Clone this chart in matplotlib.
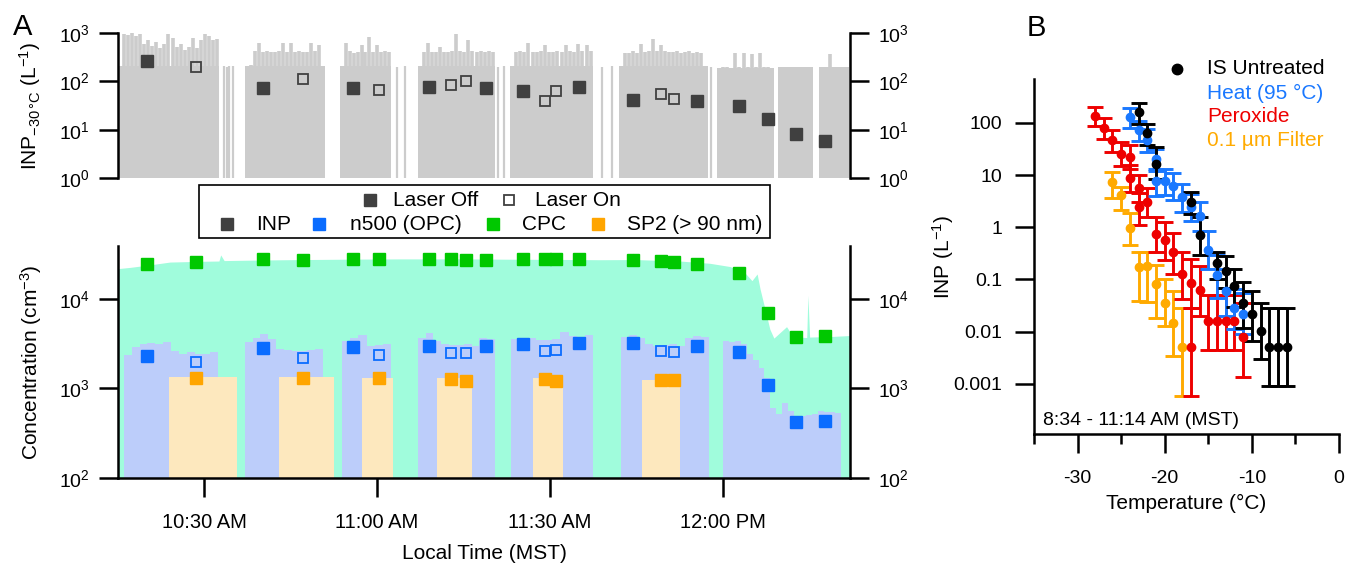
import matplotlib
matplotlib.use("Agg")
import matplotlib.pyplot as plt
import numpy as np
from matplotlib.patches import Rectangle
from matplotlib.ticker import FixedLocator, FixedFormatter, NullLocator

plt.rcParams["font.family"] = ["Liberation Sans", "DejaVu Sans"]
plt.rcParams["mathtext.fontset"] = "custom"
plt.rcParams["mathtext.rm"] = "Liberation Sans"
plt.rcParams["mathtext.it"] = "Liberation Sans:italic"
plt.rcParams["mathtext.bf"] = "Liberation Sans:bold"
plt.rcParams["axes.unicode_minus"] = False

# ------------------------------------------------------------------
# Panel A data (time in minutes after 10:00 MST)
# ------------------------------------------------------------------
# INP at -30 C, laser off / laser on
inp_off_t = [20.2, 40.2, 55.9, 69.0, 78.9, 85.3, 95.1, 104.4, 115.4, 122.8, 127.7, 132.7, 137.6]
inp_off = [267, 74, 72, 78, 73, 64, 78, 41, 39, 31, 17, 8.2, 5.7]
inp_on_t = [28.7, 47.1, 60.3, 72.8, 75.4, 89.1, 91.1, 109.2, 111.5]
inp_on = [194, 110, 67, 82, 103, 39, 64, 55, 44]

# grey INP time series: blocks (start, end, base level) with spike tops (L-1)
inp_blk_start = [15.1, 37.1, 53.6, 67.1, 83.0, 101.9, 118.9, 129.5, 136.6]
inp_blk_end = [32.6, 51.0, 62.4, 80.4, 97.4, 117.3, 128.9, 135.5, 141.8]
inp_blk_base = [210, 210, 210, 210, 210, 210, 190, 195, 195]
inp_blk_tops = [
    [210, 950, 900, 1000, 850, 950, 600, 700, 550, 650, 500, 600, 950,
     800, 520, 600, 450, 520, 800, 480, 700, 950, 850, 700, 750],
    [210, 215, 420, 620, 400, 420, 410, 400, 420, 620, 400, 610, 400,
     420, 400, 410, 620, 420, 560, 210],
    [210, 620, 420, 380, 400, 560, 400, 830, 410, 560, 400, 420, 410],
    [210, 400, 620, 400, 410, 520, 400, 400, 420, 950, 420, 400, 730,
     420, 410, 420, 400, 420, 410],
    [210, 400, 420, 410, 620, 400, 410, 420, 560, 400, 410, 420, 400,
     560, 420, 410, 600, 430, 560, 420],
    [210, 380, 380, 420, 380, 600, 400, 420, 750, 420, 560, 420, 410,
     400, 420, 380, 410, 420, 380, 400, 380, 210],
    [190, 195, 200, 190, 380, 200, 380, 195, 370, 195, 380, 200, 195, 190],
    [195, 200, 195, 200, 195, 200, 195, 195],
    [195, 200, 360, 200, 195, 200, 195],
]
inp_thin_t = [33.5, 34.0, 34.3, 35.0, 63.4, 64.8, 81.0, 82.0, 99.0, 100.7, 117.9]
inp_thin = [205, 200, 205, 210, 200, 205, 200, 205, 200, 205, 200]

# sample times (all filter samples) and point values
sample_t = [20.2, 28.7, 40.2, 47.1, 55.9, 60.3, 69.0, 72.8, 75.4, 78.9, 85.3,
            89.1, 91.1, 95.1, 104.4, 109.2, 111.5, 115.4, 122.8, 127.7, 132.7, 137.6]
cpc_pt = [24600, 26100, 27700, 27000, 27700, 27700, 27700, 28000, 27500, 27500, 28200,
          28200, 28200, 28200, 27300, 26300, 25900, 24400, 19300, 6980, 3720, 3890]
n500_off = [2320, 2800, 2880, 2950, 3010, 3110, 3220, 3220, 3010, 2540, 1080, 418, 436]
n500_on = [1990, 2210, 2390, 2460, 2460, 2600, 2670, 2630, 2580]
sp2_on = [1300, 1310, 1300, 1280, 1210, 1290, 1210, 1250, 1250]

# CPC continuous record (cm-3)
cpc_t = [15.1, 17.2, 20.6, 24.1, 29.3, 32.6, 32.9, 33.5, 39.7, 46.6, 55.3, 64.0,
         74.4, 81.3, 91.7, 98.6, 104.0, 104.4, 104.9, 112.5, 117.7, 121.2, 123.8,
         125.0, 125.9, 126.4, 127.2, 128.1, 128.8, 131.0, 132.1, 134.5, 134.7,
         135.0, 138.5, 142.0]
cpc_v = [21800, 22500, 24000, 25800, 26300, 26500, 31000, 26800, 27200, 27500, 27800,
         28000, 28000, 27800, 27600, 27400, 27500, 32500, 27500, 26500, 25000, 23000,
         19500, 16000, 19000, 13000, 8000, 4600, 3650, 4900, 3800, 3700, 11000, 3750,
         3800, 3900]

# OPC n500 record, blocks of bar tops (cm-3)
n500_blk_start = [16.1, 37.1, 53.9, 67.1, 83.2, 102.3, 120.0]
n500_blk_end = [32.5, 50.6, 62.5, 80.4, 97.5, 117.6, 140.5]
n500_blk_tops = [
    [2350, 2900, 3100, 3250, 3150, 3300, 2600, 2450, 2550, 2400, 2450, 2550],
    [3300, 3700, 4100, 3600, 2750, 2700, 2650, 2600, 2700, 2750],
    [3400, 3650, 4000, 3000, 3050, 3100],
    [3700, 4200, 3400, 3100, 3050, 3050, 3100, 3000, 3700, 3600],
    [3600, 3700, 3650, 3450, 3500, 3550, 4300, 3900, 3800, 4000],
    [3800, 4000, 3700, 3100, 3000, 3050, 3100, 3000, 3700, 3900, 3800],
    [3400, 3300, 3350, 3100, 2400, 2100, 1700, 1300, 600, 520, 680, 560, 470,
     490, 500, 520, 560, 550, 540, 530],
]

# SP2 (> 90 nm) record, one level per laser-on period (cm-3)
sp2_start = [23.9, 43.0, 57.4, 70.4, 87.0, 105.9]
sp2_end = [35.7, 52.5, 62.7, 76.4, 92.2, 112.6]
sp2_level = [1330, 1340, 1320, 1300, 1320, 1250]

time_ticks = [30, 60, 90, 120]
time_labels = ["10:30 AM", "11:00 AM", "11:30 AM", "12:00 PM"]

# ------------------------------------------------------------------
# Panel B data: INP spectra (T in C, INP in L-1, lower / upper bounds)
# ------------------------------------------------------------------
ut_T = [-23, -22, -21, -17, -16, -14, -13, -12, -11, -10, -9, -8, -7, -6]
ut_v = [158, 64, 16, 3.1, 0.71, 0.21, 0.148, 0.075, 0.035, 0.022, 0.0105, 0.0052, 0.0052, 0.0052]
ut_lo = [97, 37, 8.5, 1.8, 0.3, 0.1, 0.07, 0.03, 0.012, 0.0065, 0.003, 0.0009, 0.0009, 0.0009]
ut_hi = [241, 94, 35, 4.8, 1.6, 0.34, 0.28, 0.16, 0.09, 0.06, 0.036, 0.028, 0.028, 0.028]

ht_T = [-24, -23, -22, -21, -21, -20, -19, -18, -17, -16, -15, -14, -13, -12, -11]
ht_v = [130, 73, 47, 20, 7.6, 7.7, 6.2, 3.8, 2.4, 1.66, 0.37, 0.12, 0.059, 0.028, 0.022]
ht_lo = [80, 45, 28, 12, 4.0, 4.1, 3.4, 2.0, 1.3, 0.85, 0.16, 0.045, 0.02, 0.0115, 0.009]
ht_hi = [190, 110, 75, 32, 13, 13, 11, 6.6, 4.4, 3.1, 0.85, 0.3, 0.16, 0.065, 0.055]

px_T = [-28, -27, -26, -25, -24, -24, -23, -23, -22, -21, -20, -19, -18, -17, -17,
        -16, -15, -14, -13, -12, -11]
px_v = [134, 80, 46, 25, 22, 8.9, 5.6, 2.4, 3.05, 0.73, 0.56, 0.33, 0.126, 0.087,
        0.0052, 0.063, 0.016, 0.016, 0.016, 0.016, 0.0078]
px_lo = [88, 50, 28, 15, 13, 4.8, 3.0, 1.1, 1.6, 0.33, 0.24, 0.13, 0.042, 0.028,
         0.00058, 0.02, 0.0044, 0.0044, 0.0044, 0.0044, 0.00135]
px_hi = [197, 125, 73, 42, 38, 15.5, 10, 4.6, 5.6, 1.55, 1.25, 0.78, 0.33, 0.25,
         0.028, 0.18, 0.05, 0.05, 0.05, 0.05, 0.035]

fl_T = [-26, -25, -24, -23, -22, -21, -20, -19, -18]
fl_v = [7.4, 4.15, 0.98, 0.17, 0.18, 0.081, 0.036, 0.015, 0.0052]
fl_lo = [3.6, 2.15, 0.46, 0.038, 0.037, 0.018, 0.013, 0.0035, 0.00058]
fl_hi = [11.6, 6.0, 1.9, 0.33, 0.34, 0.19, 0.1, 0.06, 0.028]

# ------------------------------------------------------------------
# Styling
# ------------------------------------------------------------------
C_GREY_FILL = "#cccccc"
C_CPC_FILL = "#a0fcdc"
C_OPC_FILL = "#bccdfa"
C_SP2_FILL = "#fde8be"
C_DARK = "#404040"
C_GREEN = "#00c800"
C_BLUE = "#0a6cff"
C_ORANGE = "#ffa500"
B_BLACK = "#000000"
B_BLUE = "#1a78ff"
B_RED = "#ee0000"
B_ORANGE = "#ffaa00"

LW = 1.8
TICK_FS = 14
LABEL_FS = 15
MS = 8

W, H = 1346, 566
fig = plt.figure(figsize=(W / 100, H / 100), dpi=100)


def box(left, top, right, bottom):
    """Pixel box (from top-left) to figure fraction rect."""
    return [left / W, 1 - bottom / H, (right - left) / W, (bottom - top) / H]


def style_axis(ax):
    for side in ax.spines:
        ax.spines[side].set_linewidth(LW)
    ax.tick_params(which="major", direction="out", length=14, width=LW,
                   labelsize=TICK_FS, pad=6)
    ax.tick_params(which="minor", direction="out", length=7, width=LW)


def stair_blocks(ax, starts, ends, tops, base, color):
    for s, e, t in zip(starts, ends, tops):
        edges = np.linspace(s, e, len(t) + 1)
        ax.stairs(t, edges, baseline=base, fill=True, color=color, lw=0)


xlim_a = (15.1, 142.0)

# ------------------------------------------------------------------
# Panel A, top: INP
# ------------------------------------------------------------------
ax_inp = fig.add_axes(box(118, 33, 850, 178))
for s, e, b, tops in zip(inp_blk_start, inp_blk_end, inp_blk_base, inp_blk_tops):
    ax_inp.stairs([b], [s, e], baseline=1, fill=True, color=C_GREY_FILL, lw=0)
    edges = np.linspace(s, e, len(tops) + 1)
    centres = 0.5 * (edges[:-1] + edges[1:])
    ax_inp.vlines(centres, b * 0.9, tops, color=C_GREY_FILL, lw=2.6)
ax_inp.vlines(inp_thin_t, 1, inp_thin, color=C_GREY_FILL, lw=1.6)
ax_inp.plot(inp_off_t, inp_off, "s", color=C_DARK, ms=MS, mec=C_DARK)
ax_inp.plot(inp_on_t, inp_on, "s", mfc="none", mec=C_DARK, ms=MS - 0.5, mew=1.3)

ax_inp.set_yscale("log")
ax_inp.set_ylim(1, 1000)
ax_inp.set_xlim(*xlim_a)
ax_inp.set_yticks([1, 10, 100, 1000])
ax_inp.yaxis.set_minor_locator(NullLocator())
style_axis(ax_inp)
ax_inp.spines["top"].set_visible(False)
ax_inp.spines["bottom"].set_visible(False)
ax_inp.tick_params(axis="x", bottom=False, labelbottom=False)
ax_inp.tick_params(axis="y", right=True, labelright=True)
ax_inp.set_ylabel(r"INP$_{\mathrm{-30\,°C}}$ (L$^{\mathrm{-1}}$)", fontsize=LABEL_FS)
ax_inp.yaxis.set_label_coords(-0.102, 0.5)

# ------------------------------------------------------------------
# Panel A, bottom: particle concentrations
# ------------------------------------------------------------------
ax_conc = fig.add_axes(box(118, 246, 850, 478))
ax_conc.fill_between(cpc_t, 100, cpc_v, color=C_CPC_FILL, lw=0)
stair_blocks(ax_conc, n500_blk_start, n500_blk_end, n500_blk_tops, 100, C_OPC_FILL)
stair_blocks(ax_conc, sp2_start, sp2_end, [[v] for v in sp2_level], 100, C_SP2_FILL)

ax_conc.plot(sample_t, cpc_pt, "s", color=C_GREEN, ms=MS)
ax_conc.plot(inp_off_t, n500_off, "s", color=C_BLUE, ms=MS)
ax_conc.plot(inp_on_t, n500_on, "s", mfc="none", mec=C_BLUE, ms=MS - 0.5, mew=1.3)
ax_conc.plot(inp_on_t, sp2_on, "s", color=C_ORANGE, ms=MS)

ax_conc.set_yscale("log")
ax_conc.set_ylim(100, 39000)
ax_conc.set_xlim(*xlim_a)
ax_conc.set_yticks([100, 1000, 10000])
ax_conc.yaxis.set_minor_locator(NullLocator())
ax_conc.set_xticks(time_ticks)
ax_conc.set_xticklabels(time_labels)
style_axis(ax_conc)
ax_conc.spines["top"].set_visible(False)
ax_conc.tick_params(axis="y", right=True, labelright=True)
ax_conc.tick_params(axis="x", pad=11, labelsize=14.5)
ax_conc.set_ylabel(r"Concentration (cm$^{\mathrm{-3}}$)", fontsize=LABEL_FS)
ax_conc.yaxis.set_label_coords(-0.101, 0.5)
ax_conc.set_xlabel("Local Time (MST)", fontsize=LABEL_FS)
ax_conc.xaxis.set_label_coords(0.5, -0.285)

# ------------------------------------------------------------------
# Legend box between the two panels (pixel overlay)
# ------------------------------------------------------------------
ov = fig.add_axes([0, 0, 1, 1], facecolor="none")
ov.set_xlim(0, W)
ov.set_ylim(H, 0)
ov.axis("off")
ov.add_patch(Rectangle((199, 185), 571, 53, fill=False, ec="black", lw=1.2))
leg_fs = 15
row1, row2 = 200, 224
ov.plot(370, row1, "s", color=C_DARK, ms=MS)
ov.text(393, row1, "Laser Off", fontsize=leg_fs, va="center")
ov.plot(509, row1, "s", mfc="none", mec=C_DARK, ms=MS - 0.5, mew=1.3)
ov.text(535, row1, "Laser On", fontsize=leg_fs, va="center")
for xm, xt, col, lab in [(227, 256, C_DARK, "INP"), (319, 350, C_BLUE, "n500 (OPC)"),
                         (493, 522, C_GREEN, "CPC"), (598, 627, C_ORANGE, "SP2 (> 90 nm)")]:
    ov.plot(xm, row2, "s", color=col, ms=MS)
    ov.text(xt, row2, lab, fontsize=leg_fs, va="center")

fig.text(23 / W, 1 - 27 / H, "A", fontsize=21, ha="center", va="center")
fig.text(1036 / W, 1 - 28 / H, "B", fontsize=21, ha="center", va="center")

# ------------------------------------------------------------------
# Panel B: INP spectra
# ------------------------------------------------------------------
ax_b = fig.add_axes(box(1034, 79, 1339, 434))
series = [
    (fl_T, fl_v, fl_lo, fl_hi, B_ORANGE),
    (px_T, px_v, px_lo, px_hi, B_RED),
    (ht_T, ht_v, ht_lo, ht_hi, B_BLUE),
    (ut_T, ut_v, ut_lo, ut_hi, B_BLACK),
]
for T, v, lo, hi, col in series:
    v = np.asarray(v)
    yerr = [v - np.asarray(lo), np.asarray(hi) - v]
    ax_b.errorbar(T, v, yerr=yerr, fmt="o", color=col, ms=6, elinewidth=2.1,
                  capsize=6, capthick=2.1, clip_on=False)

ax_b.set_yscale("log")
ax_b.set_xlim(-35, 0)
ax_b.set_ylim(1.1e-4, 690)
b_yticks = [0.001, 0.01, 0.1, 1, 10, 100]
ax_b.yaxis.set_major_locator(FixedLocator(b_yticks))
ax_b.yaxis.set_major_formatter(FixedFormatter(["0.001", "0.01", "0.1", "1", "10", "100"]))
ax_b.yaxis.set_minor_locator(NullLocator())
ax_b.xaxis.set_major_locator(FixedLocator([-30, -20, -10, 0]))
ax_b.xaxis.set_minor_locator(FixedLocator([-35, -25, -15, -5]))
style_axis(ax_b)
ax_b.tick_params(axis="x", which="major", pad=12)
ax_b.tick_params(axis="y", pad=9)
ax_b.spines["top"].set_visible(False)
ax_b.spines["right"].set_visible(False)
ax_b.set_xlabel("Temperature (°C)", fontsize=LABEL_FS)
ax_b.xaxis.set_label_coords(0.5, -0.17)
ax_b.set_ylabel(r"INP (L$^{\mathrm{-1}}$)", fontsize=LABEL_FS)
ax_b.yaxis.set_label_coords(-0.255, 0.5)
ax_b.text(0.03, 0.037, "8:34 - 11:14 AM (MST)", transform=ax_b.transAxes,
          fontsize=14, ha="left", va="center")

# legend for panel B
leg_x = (1207 - 1034) / 305
ax_b.plot([(1176.7 - 1034) / 305], [(434 - 69) / 355], "o", color=B_BLACK, ms=7.5,
          transform=ax_b.transAxes, clip_on=False)
for ypx, col, lab in [(69, B_BLACK, "IS Untreated"), (93, B_BLUE, "Heat (95 °C)"),
                      (117, B_RED, "Peroxide"), (141, B_ORANGE, "0.1 µm Filter")]:
    ax_b.text(leg_x, (434 - ypx) / 355, lab, color=col, fontsize=15,
              transform=ax_b.transAxes, ha="left", va="center")

fig.savefig("out.png", dpi=100)
